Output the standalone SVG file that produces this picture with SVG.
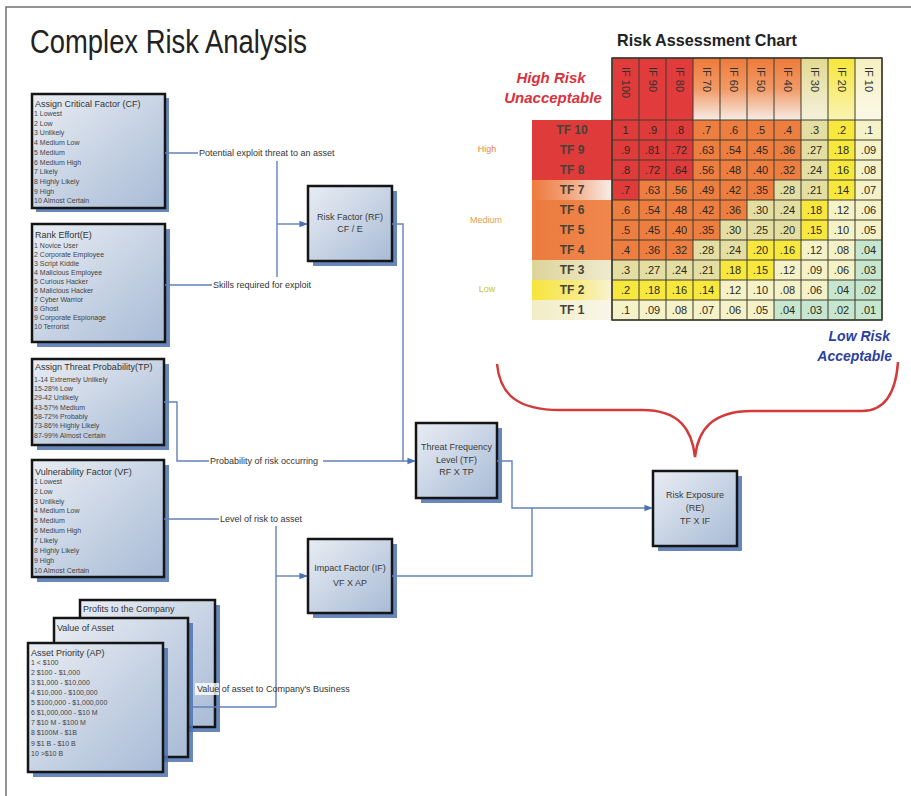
<svg xmlns="http://www.w3.org/2000/svg" width="911" height="796" viewBox="0 0 911 796">
<defs>
  <linearGradient id="boxFill" x1="0" y1="0" x2="1" y2="1">
    <stop offset="0" stop-color="#e9edf3"/>
    <stop offset="1" stop-color="#a8bbd6"/>
  </linearGradient>
  <linearGradient id="hdrOrange" x1="0" y1="0" x2="0" y2="1">
    <stop offset="0" stop-color="#ee7a3a"/>
    <stop offset="0.5" stop-color="#f29a66"/>
    <stop offset="1" stop-color="#f6ece6"/>
  </linearGradient>
  <linearGradient id="hdrKhaki" x1="0" y1="0" x2="0" y2="1">
    <stop offset="0" stop-color="#e2d990"/>
    <stop offset="1" stop-color="#f5f1dc"/>
  </linearGradient>
  <linearGradient id="hdrYellow" x1="0" y1="0" x2="0" y2="1">
    <stop offset="0" stop-color="#f7e63a"/>
    <stop offset="1" stop-color="#faf3b4"/>
  </linearGradient>
  <linearGradient id="hdrPale" x1="0" y1="0" x2="0" y2="1">
    <stop offset="0" stop-color="#f5f0c0"/>
    <stop offset="1" stop-color="#fbf9e8"/>
  </linearGradient>
  <linearGradient id="lblFade" x1="0" y1="0" x2="1" y2="0">
    <stop offset="0" stop-color="#ee7a3c"/>
    <stop offset="0.45" stop-color="#f2a27a"/>
    <stop offset="1" stop-color="#f7eee8"/>
  </linearGradient>
  <linearGradient id="lblOrange" x1="0" y1="0" x2="1" y2="0">
    <stop offset="0" stop-color="#ec7a3e"/>
    <stop offset="1" stop-color="#f0874c"/>
  </linearGradient>
  <linearGradient id="lblKhaki" x1="0" y1="0" x2="1" y2="0">
    <stop offset="0" stop-color="#ddd498"/>
    <stop offset="1" stop-color="#efebcf"/>
  </linearGradient>
  <linearGradient id="lblYellow" x1="0" y1="0" x2="1" y2="0">
    <stop offset="0" stop-color="#f7e43c"/>
    <stop offset="0.6" stop-color="#f8ec86"/>
    <stop offset="1" stop-color="#f8f2d4"/>
  </linearGradient>
  <linearGradient id="lblPale" x1="0" y1="0" x2="1" y2="0">
    <stop offset="0" stop-color="#f2edc4"/>
    <stop offset="1" stop-color="#f8f6ea"/>
  </linearGradient>
  <marker id="arrow" viewBox="0 0 10 10" refX="9" refY="5" markerWidth="6" markerHeight="6" orient="auto">
    <path d="M0,1 L10,5 L0,9 z" fill="#4a70b6"/>
  </marker>
  <style>
    text { font-family: "Liberation Sans", Arial, sans-serif; }
    .box { fill: url(#boxFill); stroke: #151515; stroke-width: 2.5; }
    .shadow { fill: #4d72b0; opacity: 0.85; }
    .btitle { font-size: 9px; fill: #333; }
    .item { font-size: 7px; fill: #444; }
    .ntext { font-size: 9px; fill: #3a3a3a; text-anchor: middle; }
    .clabel { font-size: 9px; fill: #333; }
    .wire { fill: none; stroke: #6381ba; stroke-width: 1.4; }
    .arr { marker-end: url(#arrow); }
    .cell { font-size: 11px; fill: #2a2a20; text-anchor: middle; }
    .rlabel { font-size: 12px; font-weight: bold; fill: #45423a; text-anchor: middle; }
    .clab { font-size: 11px; fill: #333; }
    .grid { fill: none; stroke: #3c3c30; stroke-width: 1; }
  </style>
</defs>

<rect width="911" height="796" fill="#ffffff"/>
<path d="M6,796 V7 H911" fill="none" stroke="#707070" stroke-width="1.5"/>

<text x="30" y="53" font-size="33" fill="#222" textLength="277" lengthAdjust="spacingAndGlyphs">Complex Risk Analysis</text>

<!-- input factor boxes -->
<g id="critical-factor">
  <rect class="shadow" x="36" y="98" width="133" height="114"/>
  <rect class="box" x="32" y="94" width="133" height="114"/>
  <text class="btitle" x="35" y="107">Assign Critical Factor (CF)</text>
  <text class="item" x="34" y="116">1 Lowest</text>
  <text class="item" x="34" y="125.7">2 Low</text>
  <text class="item" x="34" y="135.4">3 Unlikely</text>
  <text class="item" x="34" y="145.1">4 Medium Low</text>
  <text class="item" x="34" y="154.8">5 Medium</text>
  <text class="item" x="34" y="164.5">6 Medium High</text>
  <text class="item" x="34" y="174.2">7 Likely</text>
  <text class="item" x="34" y="183.9">8 Highly Likely</text>
  <text class="item" x="34" y="193.6">9 High</text>
  <text class="item" x="34" y="203.3">10 Almost Certain</text>
</g>

<g id="rank-effort">
  <rect class="shadow" x="37" y="229" width="133" height="118"/>
  <rect class="box" x="32" y="224" width="133" height="118"/>
  <text class="btitle" x="35" y="238">Rank Effort(E)</text>
  <text class="item" x="34" y="248">1 Novice User</text>
  <text class="item" x="34" y="257">2 Corporate Employee</text>
  <text class="item" x="34" y="266">3 Script Kiddie</text>
  <text class="item" x="34" y="275">4 Malicious Employee</text>
  <text class="item" x="34" y="284">5 Curious Hacker</text>
  <text class="item" x="34" y="293">6 Malicious Hacker</text>
  <text class="item" x="34" y="302">7 Cyber Warrior</text>
  <text class="item" x="34" y="311">8 Ghost</text>
  <text class="item" x="34" y="320">9 Corporate Espionage</text>
  <text class="item" x="34" y="329">10 Terrorist</text>
</g>

<g id="threat-probability">
  <rect class="shadow" x="37" y="364" width="132" height="86"/>
  <rect class="box" x="32" y="359" width="132" height="86"/>
  <text class="btitle" x="35" y="370">Assign Threat Probability(TP)</text>
  <text class="item" x="34" y="382">1-14 Extremely Unlikely</text>
  <text class="item" x="34" y="391">15-28% Low</text>
  <text class="item" x="34" y="400">29-42 Unlikely</text>
  <text class="item" x="34" y="410">43-57% Medium</text>
  <text class="item" x="34" y="419">58-72% Probably</text>
  <text class="item" x="34" y="428">73-86% Highly Likely</text>
  <text class="item" x="34" y="438">87-99% Almost Certain</text>
</g>

<g id="vulnerability-factor">
  <rect class="shadow" x="37" y="465" width="132" height="117"/>
  <rect class="box" x="32" y="460" width="132" height="117"/>
  <text class="btitle" x="35" y="475">Vulnerability Factor (VF)</text>
  <text class="item" x="34" y="484">1 Lowest</text>
  <text class="item" x="34" y="494">2 Low</text>
  <text class="item" x="34" y="504">3 Unlikely</text>
  <text class="item" x="34" y="513">4 Medium Low</text>
  <text class="item" x="34" y="523">5 Medium</text>
  <text class="item" x="34" y="533">6 Medium High</text>
  <text class="item" x="34" y="543">7 Likely</text>
  <text class="item" x="34" y="553">8 Highly Likely</text>
  <text class="item" x="34" y="563">9 High</text>
  <text class="item" x="34" y="573">10 Almost Certain</text>
</g>

<g id="asset-priority">
  <rect class="shadow" x="85" y="605" width="135" height="127"/>
  <rect class="box" x="80" y="600" width="135" height="127"/>
  <text class="btitle" x="83" y="612">Profits to the Company</text>
  <rect class="shadow" x="59" y="623" width="134" height="139"/>
  <rect class="box" x="54" y="618" width="134" height="139"/>
  <text class="btitle" x="57" y="631">Value of Asset</text>
  <rect class="shadow" x="33" y="648" width="135" height="129"/>
  <rect class="box" x="28" y="643" width="135" height="129"/>
  <text class="btitle" x="31" y="656">Asset Priority (AP)</text>
  <text class="item" x="31" y="665">1 &lt; $100</text>
  <text class="item" x="31" y="675">2 $100 - $1,000</text>
  <text class="item" x="31" y="685">3 $1,000 - $10,000</text>
  <text class="item" x="31" y="695">4 $10,000 - $100,000</text>
  <text class="item" x="31" y="705">5 $100,000 - $1,000,000</text>
  <text class="item" x="31" y="715">6 $1,000,000 - $10 M</text>
  <text class="item" x="31" y="725">7 $10 M - $100 M</text>
  <text class="item" x="31" y="735">8 $100M - $1B</text>
  <text class="item" x="31" y="746">9 $1 B - $10 B</text>
  <text class="item" x="31" y="756">10 &gt;$10 B</text>
</g>

<!-- calculation nodes -->
<g id="risk-factor">
  <rect class="shadow" x="313" y="191" width="84" height="75"/>
  <rect class="box" x="308" y="186" width="84" height="75"/>
  <text class="ntext" x="350" y="220">Risk Factor (RF)</text>
  <text class="ntext" x="350" y="232">CF / E</text>
</g>

<g id="threat-frequency">
  <rect class="shadow" x="421" y="428" width="81" height="75"/>
  <rect class="box" x="416" y="423" width="81" height="75"/>
  <text class="ntext" x="456.5" y="450">Threat Frequency</text>
  <text class="ntext" x="456.5" y="463">Level (TF)</text>
  <text class="ntext" x="456.5" y="475">RF X TP</text>
</g>

<g id="impact-factor">
  <rect class="shadow" x="313" y="544" width="84" height="74"/>
  <rect class="box" x="308" y="539" width="84" height="74"/>
  <text class="ntext" x="350" y="571">Impact Factor (IF)</text>
  <text class="ntext" x="350" y="586">VF X AP</text>
</g>

<g id="risk-exposure">
  <rect class="shadow" x="658" y="476" width="84" height="75"/>
  <rect class="box" x="653" y="471" width="84" height="75"/>
  <text class="ntext" x="695" y="498">Risk Exposure</text>
  <text class="ntext" x="695" y="511">(RE)</text>
  <text class="ntext" x="695" y="524">TF X IF</text>
</g>

<!-- connectors (drawn above the boxes so labels stay readable) -->
<g id="connectors">
  <path class="wire" d="M165,153 H198"/>
  <path class="wire" d="M277,161 V277"/>
  <path class="wire arr" d="M277,224 H307"/>
  <path class="wire" d="M165,285 H212"/>
  <path class="wire arr" d="M392,224 H403 V461 H415"/>
  <path class="wire" d="M164,402 H177 V461 H209"/>
  <path class="wire" d="M323,461 H403"/>
  <path class="wire" d="M164,519 H219"/>
  <path class="wire" d="M276,526 V707"/>
  <path class="wire arr" d="M276,576 H307"/>
  <path class="wire" d="M190,707 H276"/>
  <path class="wire arr" d="M497,461 H512 V508 H652"/>
  <path class="wire" d="M392,576 H532 V508"/>
  <text class="clabel" x="199" y="156">Potential exploit threat to an asset</text>
  <text class="clabel" x="213" y="288">Skills required for exploit</text>
  <text class="clabel" x="210" y="464">Probability of risk occurring</text>
  <text class="clabel" x="220" y="522">Level of risk to asset</text>
  <rect x="195" y="683" width="24" height="12" fill="#ffffff" opacity="0.8"/>
  <text class="clabel" x="197" y="692">Value of asset to Company's Business</text>
</g>

<!-- risk assessment chart -->
<g id="risk-chart">
  <text x="617" y="46" font-size="17" font-weight="bold" fill="#222" textLength="180" lengthAdjust="spacingAndGlyphs">Risk Assessment Chart</text>

  <text x="551" y="83" font-size="15" font-weight="bold" font-style="italic" fill="#d8323c" text-anchor="middle">High Risk</text>
  <text x="553" y="103" font-size="15" font-weight="bold" font-style="italic" fill="#d8323c" text-anchor="middle">Unacceptable</text>
  <text x="890" y="341" font-size="14" font-weight="bold" font-style="italic" fill="#2b3f9e" text-anchor="end">Low Risk</text>
  <text x="892" y="361" font-size="14" font-weight="bold" font-style="italic" fill="#2b3f9e" text-anchor="end">Acceptable</text>

  <text x="487" y="152" font-size="9" fill="#e8844a" text-anchor="middle">High</text>
  <text x="486" y="223" font-size="9" fill="#eaa040" text-anchor="middle">Medium</text>
  <text x="487" y="292" font-size="9" fill="#c9bf3a" text-anchor="middle">Low</text>

  <!-- column headers -->
  <rect x="612" y="58" width="81" height="62" fill="#e23b3b"/>
  <rect x="693" y="58" width="108" height="62" fill="url(#hdrOrange)"/>
  <rect x="801" y="58" width="27" height="62" fill="url(#hdrKhaki)"/>
  <rect x="828" y="58" width="27" height="62" fill="url(#hdrYellow)"/>
  <rect x="855" y="58" width="27" height="62" fill="url(#hdrPale)"/>
  <path class="grid" d="M612,58 H882 M612,58 V120 M639,58 V120 M666,58 V120 M693,58 V120 M720,58 V120 M747,58 V120 M774,58 V120 M801,58 V120 M828,58 V120 M855,58 V120 M882,58 V120"/>
  <text class="clab" transform="translate(621.5,67) rotate(90)">IF 100</text>
  <text class="clab" transform="translate(648.5,67) rotate(90)">IF 90</text>
  <text class="clab" transform="translate(675.5,67) rotate(90)">IF 80</text>
  <text class="clab" transform="translate(702.5,67) rotate(90)">IF 70</text>
  <text class="clab" transform="translate(729.5,67) rotate(90)">IF 60</text>
  <text class="clab" transform="translate(756.5,67) rotate(90)">IF 50</text>
  <text class="clab" transform="translate(783.5,67) rotate(90)">IF 40</text>
  <text class="clab" transform="translate(810.5,67) rotate(90)">IF 30</text>
  <text class="clab" transform="translate(837.5,67) rotate(90)">IF 20</text>
  <text class="clab" transform="translate(864.5,67) rotate(90)">IF 10</text>

  <!-- row labels -->
  <rect x="532" y="120" width="80" height="60" fill="#e03b3b"/>
  <rect x="532" y="180" width="80" height="20" fill="url(#lblFade)"/>
  <rect x="532" y="200" width="80" height="60" fill="url(#lblOrange)"/>
  <rect x="532" y="260" width="80" height="20" fill="url(#lblKhaki)"/>
  <rect x="532" y="280" width="80" height="20" fill="url(#lblYellow)"/>
  <rect x="532" y="300" width="80" height="20" fill="url(#lblPale)"/>
  <text class="rlabel" x="572" y="134">TF 10</text>
  <text class="rlabel" x="572" y="154">TF 9</text>
  <text class="rlabel" x="572" y="174">TF 8</text>
  <text class="rlabel" x="572" y="194">TF 7</text>
  <text class="rlabel" x="572" y="214">TF 6</text>
  <text class="rlabel" x="572" y="234">TF 5</text>
  <text class="rlabel" x="572" y="254">TF 4</text>
  <text class="rlabel" x="572" y="274">TF 3</text>
  <text class="rlabel" x="572" y="294">TF 2</text>
  <text class="rlabel" x="572" y="314">TF 1</text>

  <!-- cell colour bands -->
  <g>
    <rect x="612" y="120" width="81" height="60" fill="#e03b3b"/>
    <rect x="693" y="120" width="108" height="60" fill="#ee7d40"/>
    <rect x="801" y="120" width="27" height="60" fill="#e5dea2"/>
    <rect x="828" y="120" width="27" height="60" fill="#f8e83e"/>
    <rect x="855" y="120" width="27" height="60" fill="#f6f2c8"/>

    <rect x="612" y="180" width="27" height="20" fill="#e03b3b"/>
    <rect x="639" y="180" width="135" height="20" fill="#ee7d40"/>
    <rect x="774" y="180" width="54" height="20" fill="#e5dea2"/>
    <rect x="828" y="180" width="27" height="20" fill="#f8e83e"/>
    <rect x="855" y="180" width="27" height="20" fill="#f6f2c8"/>

    <rect x="612" y="200" width="135" height="20" fill="#ee7d40"/>
    <rect x="747" y="200" width="54" height="20" fill="#e5dea2"/>
    <rect x="801" y="200" width="27" height="20" fill="#f8e83e"/>
    <rect x="828" y="200" width="54" height="20" fill="#f6f2c8"/>

    <rect x="612" y="220" width="108" height="20" fill="#ee7d40"/>
    <rect x="720" y="220" width="81" height="20" fill="#e5dea2"/>
    <rect x="801" y="220" width="27" height="20" fill="#f8e83e"/>
    <rect x="828" y="220" width="54" height="20" fill="#f6f2c8"/>

    <rect x="612" y="240" width="81" height="20" fill="#ee7d40"/>
    <rect x="693" y="240" width="54" height="20" fill="#e5dea2"/>
    <rect x="747" y="240" width="54" height="20" fill="#f8e83e"/>
    <rect x="801" y="240" width="54" height="20" fill="#f6f2c8"/>
    <rect x="855" y="240" width="27" height="20" fill="#c7e6cf"/>

    <rect x="612" y="260" width="108" height="20" fill="#e5dea2"/>
    <rect x="720" y="260" width="54" height="20" fill="#f8e83e"/>
    <rect x="774" y="260" width="81" height="20" fill="#f6f2c8"/>
    <rect x="855" y="260" width="27" height="20" fill="#c7e6cf"/>

    <rect x="612" y="280" width="108" height="20" fill="#f8e83e"/>
    <rect x="720" y="280" width="108" height="20" fill="#f6f2c8"/>
    <rect x="828" y="280" width="54" height="20" fill="#c7e6cf"/>

    <rect x="612" y="300" width="162" height="20" fill="#f6f2c8"/>
    <rect x="774" y="300" width="108" height="20" fill="#c7e6cf"/>
  </g>

  <path class="grid" d="M612,120 H882 M612,140 H882 M612,160 H882 M612,180 H882 M612,200 H882 M612,220 H882 M612,240 H882 M612,260 H882 M612,280 H882 M612,300 H882 M612,320 H882 M612,120 V320 M639,120 V320 M666,120 V320 M693,120 V320 M720,120 V320 M747,120 V320 M774,120 V320 M801,120 V320 M828,120 V320 M855,120 V320 M882,120 V320"/>
  <rect x="612" y="58" width="270" height="262" fill="none" stroke="#3c3c30" stroke-width="1.5"/>

  <!-- cell values -->
  <text class="cell" y="134"><tspan x="625.5">1</tspan><tspan x="652.5">.9</tspan><tspan x="679.5">.8</tspan><tspan x="706.5">.7</tspan><tspan x="733.5">.6</tspan><tspan x="760.5">.5</tspan><tspan x="787.5">.4</tspan><tspan x="814.5">.3</tspan><tspan x="841.5">.2</tspan><tspan x="868.5">.1</tspan></text>
  <text class="cell" y="154"><tspan x="625.5">.9</tspan><tspan x="652.5">.81</tspan><tspan x="679.5">.72</tspan><tspan x="706.5">.63</tspan><tspan x="733.5">.54</tspan><tspan x="760.5">.45</tspan><tspan x="787.5">.36</tspan><tspan x="814.5">.27</tspan><tspan x="841.5">.18</tspan><tspan x="868.5">.09</tspan></text>
  <text class="cell" y="174"><tspan x="625.5">.8</tspan><tspan x="652.5">.72</tspan><tspan x="679.5">.64</tspan><tspan x="706.5">.56</tspan><tspan x="733.5">.48</tspan><tspan x="760.5">.40</tspan><tspan x="787.5">.32</tspan><tspan x="814.5">.24</tspan><tspan x="841.5">.16</tspan><tspan x="868.5">.08</tspan></text>
  <text class="cell" y="194"><tspan x="625.5">.7</tspan><tspan x="652.5">.63</tspan><tspan x="679.5">.56</tspan><tspan x="706.5">.49</tspan><tspan x="733.5">.42</tspan><tspan x="760.5">.35</tspan><tspan x="787.5">.28</tspan><tspan x="814.5">.21</tspan><tspan x="841.5">.14</tspan><tspan x="868.5">.07</tspan></text>
  <text class="cell" y="214"><tspan x="625.5">.6</tspan><tspan x="652.5">.54</tspan><tspan x="679.5">.48</tspan><tspan x="706.5">.42</tspan><tspan x="733.5">.36</tspan><tspan x="760.5">.30</tspan><tspan x="787.5">.24</tspan><tspan x="814.5">.18</tspan><tspan x="841.5">.12</tspan><tspan x="868.5">.06</tspan></text>
  <text class="cell" y="234"><tspan x="625.5">.5</tspan><tspan x="652.5">.45</tspan><tspan x="679.5">.40</tspan><tspan x="706.5">.35</tspan><tspan x="733.5">.30</tspan><tspan x="760.5">.25</tspan><tspan x="787.5">.20</tspan><tspan x="814.5">.15</tspan><tspan x="841.5">.10</tspan><tspan x="868.5">.05</tspan></text>
  <text class="cell" y="254"><tspan x="625.5">.4</tspan><tspan x="652.5">.36</tspan><tspan x="679.5">.32</tspan><tspan x="706.5">.28</tspan><tspan x="733.5">.24</tspan><tspan x="760.5">.20</tspan><tspan x="787.5">.16</tspan><tspan x="814.5">.12</tspan><tspan x="841.5">.08</tspan><tspan x="868.5">.04</tspan></text>
  <text class="cell" y="274"><tspan x="625.5">.3</tspan><tspan x="652.5">.27</tspan><tspan x="679.5">.24</tspan><tspan x="706.5">.21</tspan><tspan x="733.5">.18</tspan><tspan x="760.5">.15</tspan><tspan x="787.5">.12</tspan><tspan x="814.5">.09</tspan><tspan x="841.5">.06</tspan><tspan x="868.5">.03</tspan></text>
  <text class="cell" y="294"><tspan x="625.5">.2</tspan><tspan x="652.5">.18</tspan><tspan x="679.5">.16</tspan><tspan x="706.5">.14</tspan><tspan x="733.5">.12</tspan><tspan x="760.5">.10</tspan><tspan x="787.5">.08</tspan><tspan x="814.5">.06</tspan><tspan x="841.5">.04</tspan><tspan x="868.5">.02</tspan></text>
  <text class="cell" y="314"><tspan x="625.5">.1</tspan><tspan x="652.5">.09</tspan><tspan x="679.5">.08</tspan><tspan x="706.5">.07</tspan><tspan x="733.5">.06</tspan><tspan x="760.5">.05</tspan><tspan x="787.5">.04</tspan><tspan x="814.5">.03</tspan><tspan x="841.5">.02</tspan><tspan x="868.5">.01</tspan></text>

  <!-- brace gathering the chart into Risk Exposure -->
  <path d="M497,364 C500,395 518,410 560,410 L642,410 C680,410 692,430 695,457 C698,430 712,411 752,411 L862,411 C886,411 896,390 898,362" fill="none" stroke="#d53a3a" stroke-width="2.5"/>
</g>
</svg>
